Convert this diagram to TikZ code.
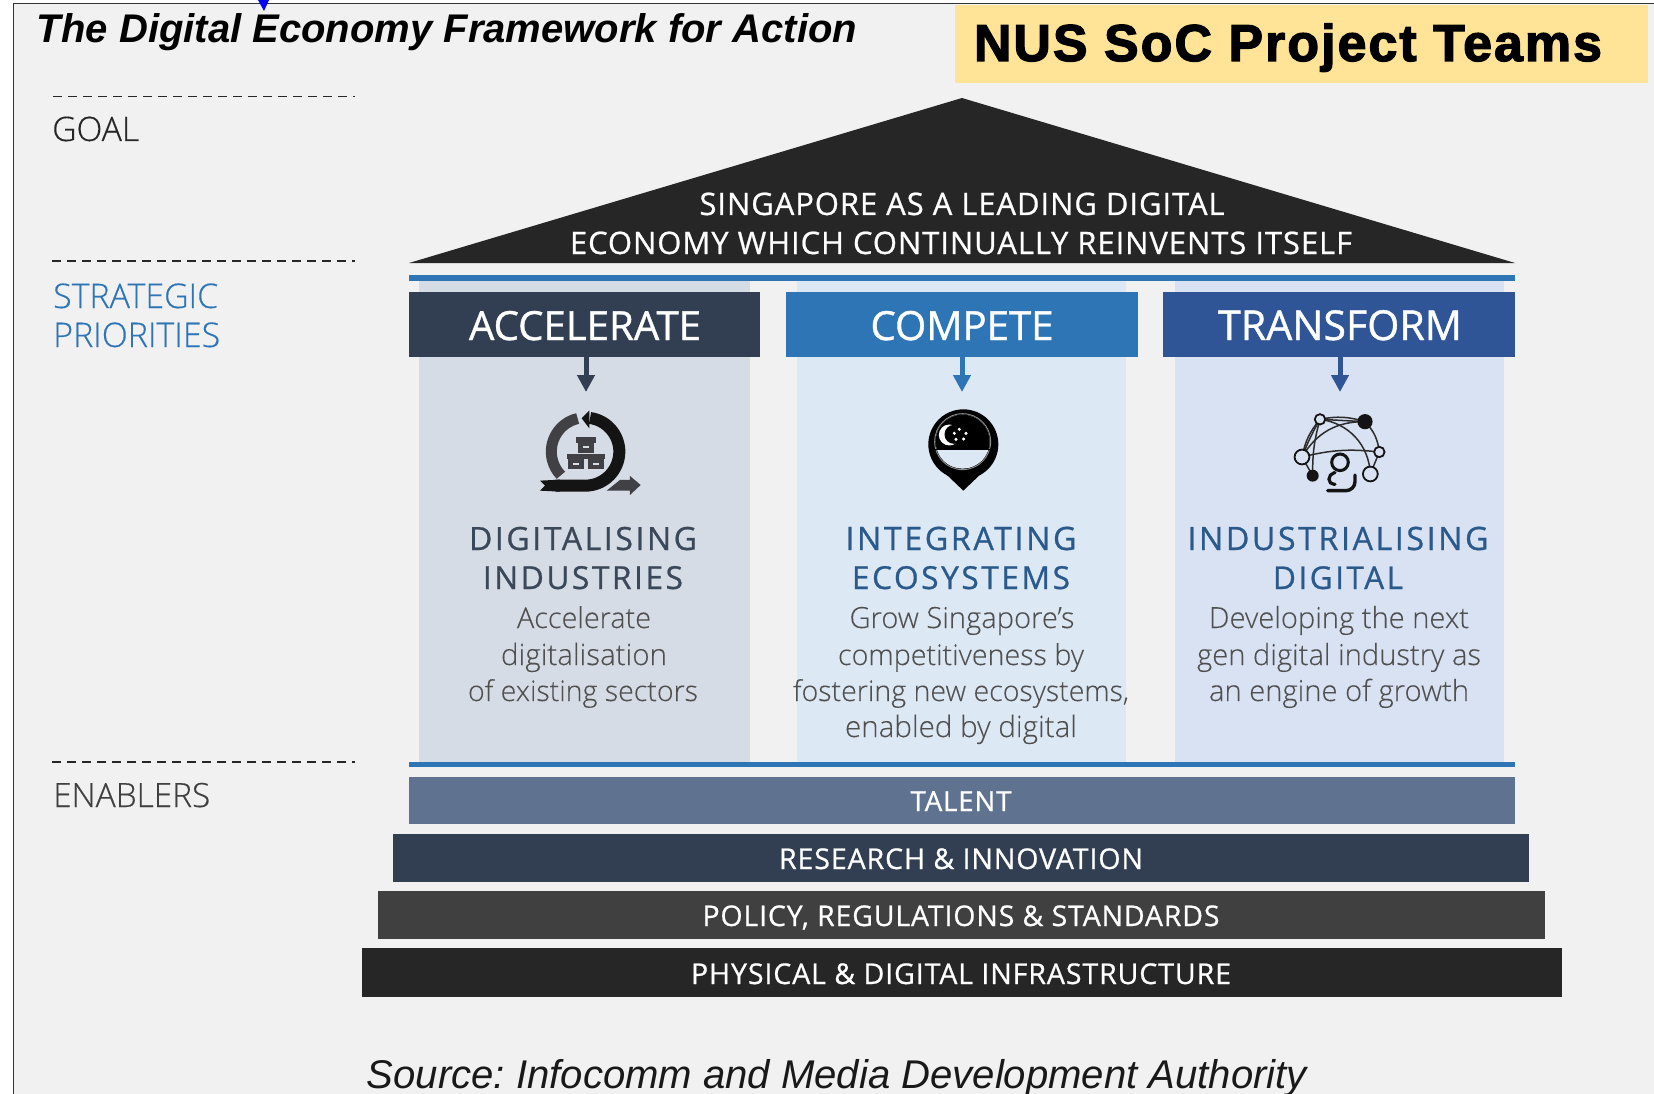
\documentclass[tikz,border=0pt]{standalone}
\usepackage{fontspec}
\usepackage{graphicx}
\setmainfont{Open Sans}
\frenchspacing
\newfontfamily\arialf{Liberation Sans}
\newfontfamily\headf[LetterSpace=8,FakeBold=0.8]{Open Sans}
\newfontfamily\barf[LetterSpace=3,FakeBold=0.7]{Open Sans}
\newfontfamily\tallf[FakeBold=0.9]{Open Sans}
\newfontfamily\lightf[FakeBold=0.15]{Open Sans Light}
\newfontfamily\labf[FakeBold=0.35]{Open Sans Light}
\usetikzlibrary{arrows.meta}
\definecolor{bgc}{HTML}{F1F1F1}
\definecolor{roofc}{HTML}{262626}
\definecolor{slate}{HTML}{323F52}
\definecolor{midblue}{HTML}{2E75B6}
\definecolor{royal}{HTML}{2F5597}
\definecolor{colA}{HTML}{D6DCE5}
\definecolor{colB}{HTML}{DDE8F5}
\definecolor{colC}{HTML}{D9E2F3}
\definecolor{talentc}{HTML}{5F7390}
\definecolor{policyc}{HTML}{404040}
\definecolor{yel}{HTML}{FFE498}
\definecolor{headA}{HTML}{3B4859}
\definecolor{headB}{HTML}{2A5A8C}
\definecolor{descc}{HTML}{505050}
\definecolor{iconb}{HTML}{141414}
\definecolor{icong}{HTML}{404045}
\newcommand{\fitw}[2]{\resizebox{#1pt}{!}{#2}}
\tikzset{
  txt/.style={inner sep=0pt,anchor=base,font=\fontsize{20}{24}\selectfont},
  coltitle/.style={txt,font=\headf\fontsize{20}{24}\selectfont},
  bartxt/.style={txt,text=white,font=\barf\fontsize{20}{24}\selectfont},
  headtxt/.style={txt,text=white,font=\tallf\fontsize{20}{24}\selectfont},
  desctxt/.style={txt,text=descc,font=\lightf\fontsize{20}{24}\selectfont},
  lefttxt/.style={txt,anchor=base west,font=\labf\fontsize{20}{24}\selectfont},
  band/.style={draw=none,inner sep=0pt,anchor=north west},
  dashline/.style={draw=black!85,dash pattern=on 9pt off 6pt},
  pointer/.style={-{Triangle[width=17pt,length=17pt]},line width=5pt},
  netline/.style={draw=iconb!90,line width=1.5pt},
  openn/.style={draw=iconb,fill=colC,line width=1.8pt},
  blackn/.style={fill=iconb,draw=none}
}
\begin{document}
\begin{tikzpicture}[x=1pt,y=-1pt]
\useasboundingbox (0,0) rectangle (1654,1094);
\clip (0,0) rectangle (1654,1094);
\fill[bgc] (0,0) rectangle (1654,1094);
\fill[white] (0,0) rectangle (13,1094);
\fill[white] (0,0) rectangle (1654,3);
\draw[black!80,line width=1.3pt] (13.5,1094) -- (13.5,3.5) -- (1654,3.5);
\fill[blue] (258,0) -- (269,0) -- (264,11) -- cycle;
% header
\fill[yel] (955,5) rectangle (1648,83);
\node[txt,font=\arialf\bfseries\fontsize{60}{60}\selectfont\addfontfeature{LetterSpace=4,FakeBold=2.5}] (nus) at (1288,61) {\fitw{628}{NUS SoC Project Teams}};
\node[txt,font=\arialf\bfseries\itshape\fontsize{40}{40}\selectfont] (title) at (447,43) {\fitw{820}{The Digital Economy Framework for Action}};
% left
\draw[dashline,line width=1pt] (53,97) -- (355,97);
\draw[dashline,line width=1.8pt] (52,261) -- (355,261);
\draw[dashline,line width=1.8pt] (52,762) -- (355,762);
\node[lefttxt,text=black!85] (goal) at (52,141) {\fitw{87}{GOAL}};
\node[lefttxt,text=midblue] (strat) at (53,308) {\fitw{165}{STRATEGIC}};
\node[lefttxt,text=midblue] (prio) at (53,347) {\fitw{167}{PRIORITIES}};
\node[lefttxt,text=black!75] (enab) at (53,807) {\fitw{157}{ENABLERS}};
% roof
\fill[roofc] (962,98) -- (1515,263) -- (409,263) -- cycle;
\node[bartxt] (g1) at (962,215) {\fitw{525}{SINGAPORE AS A LEADING DIGITAL}};
\node[bartxt] (g2) at (961,254) {\fitw{782}{ECONOMY WHICH CONTINUALLY REINVENTS ITSELF}};
% columns
\fill[colA] (419,281) rectangle (750,762);
\fill[colB] (797,281) rectangle (1126,762);
\fill[colC] (1175,281) rectangle (1504,762);
\fill[midblue] (409,275) rectangle (1515,281);
\fill[midblue] (409,762) rectangle (1515,767);
% column headers
\node[band,fill=slate,minimum width=351pt,minimum height=65pt] (hA) at (409,292) {};
\node[band,fill=midblue,minimum width=352pt,minimum height=65pt] (hB) at (786,292) {};
\node[band,fill=royal,minimum width=352pt,minimum height=65pt] (hC) at (1163,292) {};
\node[headtxt] (tA) at (585,340) {\fitw{232}{ACCELERATE}};
\node[headtxt] (tB) at (962,340) {\fitw{183}{COMPETE}};
\node[headtxt] (tC) at (1340,340) {\fitw{244}{TRANSFORM}};
\coordinate (aA) at (586,392);
\coordinate (aB) at (962,392);
\coordinate (aC) at (1340,392);
\draw[pointer,draw=slate,fill=slate] (aA |- hA.south) -- (aA);
\draw[pointer,draw=midblue,fill=midblue] (aB |- hB.south) -- (aB);
\draw[pointer,draw=royal,fill=royal] (aC |- hC.south) -- (aC);
% icon A
\begin{scope}[shift={(480,340)},x=0.3333pt,y=-0.3333pt]
  \coordinate (ca) at (316,335);
  \draw[icong,line width=11pt] (ca) ++(103:34pt) arc[start angle=103,end angle=224,radius=34pt];
  \draw[iconb,line width=12pt] (ca) ++(82:34pt) arc[start angle=82,end angle=-90,radius=34pt] -- ++(-30pt,0);
  \fill[iconb] (305,235) -- (328,212) -- (328,265) -- cycle;
  \fill[iconb] (240,419) -- (180,422) -- (195,437) -- (180,452) -- (240,455) -- cycle;
  \fill[icong] (380,452) -- (420,420) -- (450,420) -- (450,408) -- (482,435) -- (450,465) -- (450,452) -- cycle;
  \foreach \x/\y in {318/292,289/342,347/342}{
    \fill[icong] (\x-29,\y) rectangle (\x+29,\y+16);
    \fill[icong] (\x-24,\y+16) rectangle (\x+24,\y+46);
    \fill[colA] (\x-9,\y+27) rectangle (\x+9,\y+33);
  }
\end{scope}
% icon B
\begin{scope}[shift={(860,340)},x=0.3333pt,y=-0.3333pt]
  \fill[black] (222,368) -- (310,452) -- (398,368) -- cycle;
  \fill[black] (310,313) circle[radius=35pt];
  \fill[colB] (308,305) circle[radius=27pt];
  \begin{scope}
    \clip (200,200) rectangle (420,328);
    \fill[black] (308,305) circle[radius=27pt];
  \end{scope}
  \draw[black!45,line width=0.9pt] (308,305) circle[radius=28pt];
  \draw[black,line width=0.8pt] (226,328) -- (390,328);
  \fill[white] (268,285) circle[radius=10.5pt];
  \fill[black] (282,283) circle[radius=9.5pt];
  \foreach \x/\y in {298/268,318/280,311/297,288/298,283/280}
    \fill[white] (\x,\y) circle[radius=1.7pt];
\end{scope}
% icon C
\begin{scope}[shift={(1240,340)},x=0.3333pt,y=-0.3333pt]
  \coordinate (n1) at (240,238);
  \coordinate (n2) at (375,245);
  \coordinate (n3) at (186,351);
  \coordinate (n4) at (418,336);
  \coordinate (n5) at (218,407);
  \coordinate (n6) at (391,402);
  \draw[netline] (n3) to[bend left=14] (n1);
  \draw[netline] (n3) to[bend left=4] (n1);
  \draw[netline] (n1) to[bend left=14] (n2);
  \draw[netline] (n1) -- (n2);
  \draw[netline] (n2) to[bend left=18] (n4);
  \draw[netline] (n3) to[bend left=10] (n4);
  \draw[netline] (n3) to[bend left=30] (n2);
  \draw[netline] (n1) to[bend left=40] (n6);
  \draw[netline] (n1) to[bend right=8] (n5);
  \draw[netline] (n3) -- (n5);
  \draw[netline] (n4) -- (n6);
  \fill[blackn] (n2) circle[radius=7.6pt];
  \fill[blackn] (n5) circle[radius=6pt];
  \draw[openn] (n1) circle[radius=5.2pt];
  \draw[openn] (n3) circle[radius=7.4pt];
  \draw[openn] (n4) circle[radius=5.2pt];
  \draw[openn] (n6) circle[radius=7.4pt];
  \fill[colC] (300,367) circle[radius=9pt];
  \draw[iconb,line width=3pt] (300,367) circle[radius=8.3pt];
  \draw[iconb,line width=3.2pt,line cap=round,rounded corners=5pt] (285,398) -- (267,402) -- (267,433) -- (285,433);
  \draw[iconb,line width=3.4pt,line cap=round,rounded corners=9pt] (345,405) -- (345,452) -- (263,452);
\end{scope}
% column texts
\node[coltitle,text=headA] (a1) at (583,550) {\fitw{228}{DIGITALISING}};
\node[coltitle,text=headA] (a2) at (583,589) {\fitw{200}{INDUSTRIES}};
\node[desctxt] (a3) at (584,628) {\fitw{134}{Accelerate}};
\node[desctxt] (a4) at (584,665) {\fitw{166}{digitalisation}};
\node[desctxt] (a5) at (583,701) {\fitw{230}{of existing sectors}};
\node[coltitle,text=headB] (b1) at (961,550) {\fitw{231}{INTEGRATING}};
\node[coltitle,text=headB] (b2) at (961,589) {\fitw{218}{ECOSYSTEMS}};
\node[desctxt] (b3) at (962,628) {\fitw{225}{Grow Singapore’s}};
\node[desctxt] (b4) at (961,665) {\fitw{246}{competitiveness by}};
\node[desctxt] (b5) at (961,701) {\fitw{336}{fostering new ecosystems,}};
\node[desctxt] (b6) at (961,737) {\fitw{232}{enabled by digital}};
\node[coltitle,text=headB] (c1) at (1338,550) {\fitw{301}{INDUSTRIALISING}};
\node[coltitle,text=headB] (c2) at (1338,589) {\fitw{130}{DIGITAL}};
\node[desctxt] (c3) at (1339,628) {\fitw{260}{Developing the next}};
\node[desctxt] (c4) at (1339,665) {\fitw{284}{gen digital industry as}};
\node[desctxt] (c5) at (1339,701) {\fitw{260}{an engine of growth}};
% enablers
\fill[talentc] (409,777) rectangle (1515,824);
\fill[slate] (393,834) rectangle (1529,882);
\fill[policyc] (378,891) rectangle (1545,939);
\fill[roofc] (362,948) rectangle (1562,997);
\node[bartxt] (e1) at (961,811) {\fitw{101}{TALENT}};
\node[bartxt] (e2) at (961,869) {\fitw{364}{RESEARCH \& INNOVATION}};
\node[bartxt] (e3) at (961,926) {\fitw{517}{POLICY, REGULATIONS \& STANDARDS}};
\node[bartxt] (e4) at (961,984) {\fitw{540}{PHYSICAL \& DIGITAL INFRASTRUCTURE}};
\node[txt,font=\arialf\itshape\fontsize{40}{40}\selectfont,text=black!90] (src) at (837,1088) {\fitw{940}{Source: Infocomm and Media Development Authority}};
\end{tikzpicture}
\end{document}
